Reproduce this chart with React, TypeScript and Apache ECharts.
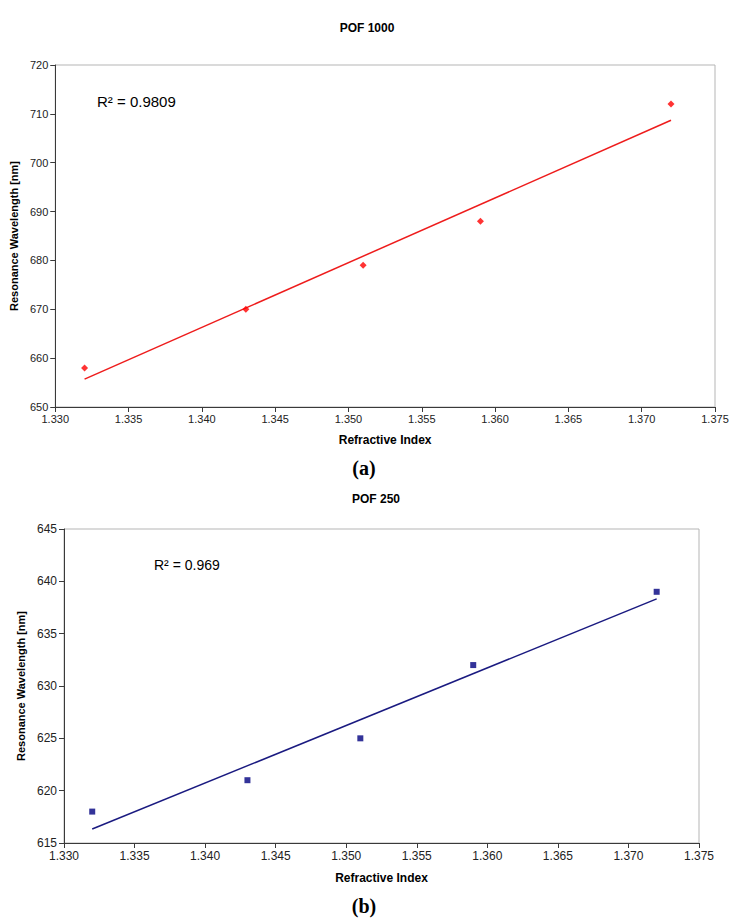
import React, { useEffect, useRef } from "react";
import * as echarts from "echarts";

// ---- data ----
const refractiveIndex = [1.332, 1.343, 1.351, 1.359, 1.372];
const wavelengthPOF1000 = [658, 670, 679, 688, 712];
const wavelengthPOF250 = [618, 621, 625, 632, 639];

const panelTitles = ["POF 1000", "POF 250"];
const panelCaptions = ["(a)", "(b)"];
const r2Labels = ["R² = 0.9809", "R² = 0.969"];

const xRange = [1.33, 1.375];
const xInterval = 0.005;
const yRangeA = [650, 720];
const yIntervalA = 10;
const yRangeB = [615, 645];
const yIntervalB = 5;

const xAxisName = "Refractive Index";
const yAxisName = "Resonance Wavelength [nm]";

function linearFit(xs: number[], ys: number[]) {
  const n = xs.length;
  const mx = xs.reduce((a, b) => a + b, 0) / n;
  const my = ys.reduce((a, b) => a + b, 0) / n;
  let sxy = 0;
  let sxx = 0;
  for (let i = 0; i < n; i++) {
    sxy += (xs[i] - mx) * (ys[i] - my);
    sxx += (xs[i] - mx) * (xs[i] - mx);
  }
  const slope = sxy / sxx;
  const intercept = my - slope * mx;
  return { slope, intercept };
}

function trendPoints(xs: number[], ys: number[]) {
  const { slope, intercept } = linearFit(xs, ys);
  const x0 = Math.min(...xs);
  const x1 = Math.max(...xs);
  return [
    [x0, slope * x0 + intercept],
    [x1, slope * x1 + intercept],
  ];
}

const FONT = "Liberation Sans";

function makeXAxis(gridIndex: number, labelSize: number, nameGap: number, margin: number) {
  return {
    type: "value",
    gridIndex,
    min: xRange[0],
    max: xRange[1],
    interval: xInterval,
    axisLine: { show: true, onZero: false, lineStyle: { color: "#3a3a3a", width: 1 } },
    axisTick: { show: true, inside: false, length: 5, lineStyle: { color: "#3a3a3a" } },
    axisLabel: {
      margin,
      fontSize: labelSize,
      fontFamily: FONT,
      color: "#222",
      formatter: (v: number) => v.toFixed(3),
    },
    splitLine: { show: false },
    name: xAxisName,
    nameLocation: "middle",
    nameGap,
    nameTextStyle: { fontSize: 12, fontWeight: "bold", fontFamily: FONT, color: "#000" },
  };
}

function makeYAxis(gridIndex: number, range: number[], interval: number, labelSize: number, nameGap: number) {
  return {
    type: "value",
    gridIndex,
    min: range[0],
    max: range[1],
    interval,
    axisLine: { show: true, onZero: false, lineStyle: { color: "#3a3a3a", width: 1 } },
    axisTick: { show: true, inside: false, length: 5, lineStyle: { color: "#3a3a3a" } },
    axisLabel: { margin: 7, fontSize: labelSize, fontFamily: FONT, color: "#222" },
    splitLine: { show: false },
    name: yAxisName,
    nameLocation: "middle",
    nameGap,
    nameTextStyle: { fontSize: 11, fontWeight: "bold", fontFamily: FONT, color: "#000" },
  };
}

export default function App() {
  const ref = useRef<HTMLDivElement>(null);

  useEffect(() => {
    if (!ref.current) return;
    const chart = echarts.init(ref.current, undefined, { renderer: "svg" });

    const ptsA = refractiveIndex.map((x, i) => [x, wavelengthPOF1000[i]]);
    const ptsB = refractiveIndex.map((x, i) => [x, wavelengthPOF250[i]]);

    chart.setOption({
      animation: false,
      backgroundColor: "#fff",
      grid: [
        { left: 50, top: 65, width: 665, height: 342, show: true, borderColor: "#b5b5b5", borderWidth: 1, backgroundColor: "transparent" },
        { left: 64, top: 529, width: 635, height: 314, show: true, borderColor: "#b5b5b5", borderWidth: 1, backgroundColor: "transparent" },
      ],
      xAxis: [makeXAxis(0, 11, 27, 6), makeXAxis(1, 12, 29, 7)],
      yAxis: [
        makeYAxis(0, yRangeA, yIntervalA, 11, 32),
        makeYAxis(1, yRangeB, yIntervalB, 12, 38),
      ],
      series: [
        {
          type: "line",
          xAxisIndex: 0,
          yAxisIndex: 0,
          data: trendPoints(refractiveIndex, wavelengthPOF1000),
          showSymbol: false,
          lineStyle: { color: "#ee1c1c", width: 1.5 },
          z: 2,
        },
        {
          type: "scatter",
          xAxisIndex: 0,
          yAxisIndex: 0,
          data: ptsA,
          symbol: "diamond",
          symbolSize: 7,
          itemStyle: { color: "#ff0000" },
          z: 3,
        },
        {
          type: "line",
          xAxisIndex: 1,
          yAxisIndex: 1,
          data: trendPoints(refractiveIndex, wavelengthPOF250),
          showSymbol: false,
          lineStyle: { color: "#1a1a80", width: 1.5 },
          z: 2,
        },
        {
          type: "scatter",
          xAxisIndex: 1,
          yAxisIndex: 1,
          data: ptsB,
          symbol: "rect",
          symbolSize: 6,
          itemStyle: { color: "#000080" },
          z: 3,
        },
      ],
      graphic: [
        { type: "text", x: 367, y: 28, style: { text: panelTitles[0], font: `bold 12px "${FONT}"`, fill: "#000", align: "center", verticalAlign: "middle" } },
        { type: "text", x: 376, y: 499, style: { text: panelTitles[1], font: `bold 12px "${FONT}"`, fill: "#000", align: "center", verticalAlign: "middle" } },
        { type: "text", x: 97, y: 101, style: { text: r2Labels[0], font: `15px "${FONT}"`, fill: "#000", align: "left", verticalAlign: "middle" } },
        { type: "text", x: 154, y: 565, style: { text: r2Labels[1], font: `14px "${FONT}"`, fill: "#000", align: "left", verticalAlign: "middle" } },
        { type: "text", x: 364, y: 468, style: { text: panelCaptions[0], font: `bold 20px "Liberation Serif"`, fill: "#000", align: "center", verticalAlign: "middle" } },
        { type: "text", x: 364, y: 906, style: { text: panelCaptions[1], font: `bold 20px "Liberation Serif"`, fill: "#000", align: "center", verticalAlign: "middle" } },
      ],
    });

    return () => chart.dispose();
  }, []);

  return (
    <div
      ref={ref}
      style={{ position: "absolute", left: 0, top: 0, width: 733, height: 924, background: "#fff" }}
    />
  );
}
